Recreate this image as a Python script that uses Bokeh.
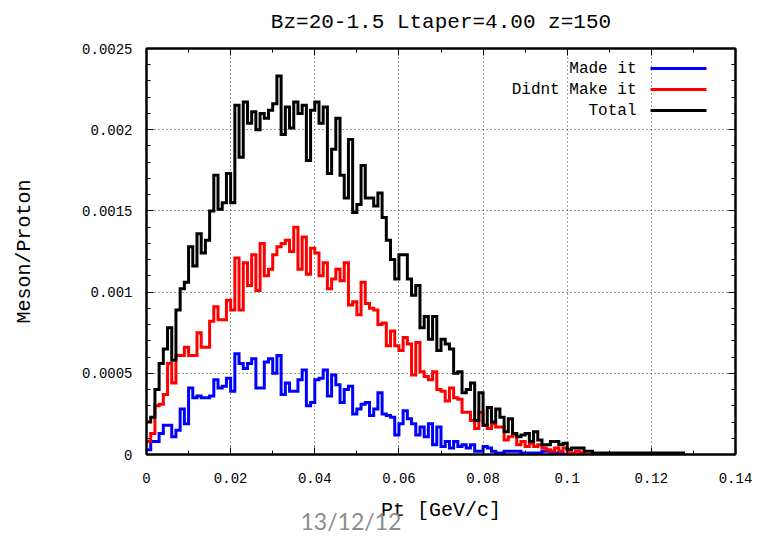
from bokeh.plotting import figure
from bokeh.models import Range1d, FixedTicker, LinearAxis, Label, BoxAnnotation, Title
from bokeh.embed import file_html
from bokeh.resources import INLINE

# ---------------- data (values in units of 1e-5 Meson/Proton per 0.001 GeV/c bin) ----------------
SCALE = 1e-5
BIN_WIDTH = 0.001

total_e5 = [
    20, 23, 40, 56, 65, 78, 58, 89, 102, 106,
    128, 116, 136, 124, 132, 150, 172, 151, 155, 173,
    155, 215, 183, 217, 204, 211, 200, 210, 207, 212,
    216, 233, 197, 214, 201, 217, 210, 215, 181, 212,
    217, 204, 214, 173, 188, 207, 172, 158, 194, 149,
    154, 178, 158, 158, 153, 161, 146, 132, 120, 108,
    123, 123, 108, 98, 104, 78, 85, 71, 85, 64,
    71, 68, 65, 50, 51, 38, 40, 44, 21, 38,
    18, 29, 20, 28, 23, 14, 22, 13, 11, 12,
    13, 8, 14, 9, 6, 6, 8, 8, 6, 7,
    3, 4, 4, 4, 2, 2, 1, 1, 1, 1,
    1, 1, 1, 1, 1, 1, 1, 1, 1, 1,
    1, 1, 1, 1, 1, 1, 1, 1,
]

didnt_e5 = [
    8, 13, 30, 31, 37, 56, 44, 61, 61, 66,
    61, 61, 75, 66, 66, 82, 91, 83, 83, 95,
    89, 121, 89, 118, 104, 123, 101, 130, 110, 114,
    123, 128, 130, 132, 125, 140, 114, 134, 111, 127,
    124, 110, 118, 102, 108, 114, 107, 118, 92, 94,
    86, 106, 93, 90, 89, 80, 81, 67, 76, 67,
    64, 72, 68, 49, 69, 51, 48, 46, 51, 40,
    39, 33, 41, 35, 34, 26, 26, 21, 16, 26,
    18, 16, 19, 17, 17, 9, 11, 12, 6, 8,
    5, 7, 5, 6, 4, 3, 2, 4, 2, 4,
    1, 1, 2, 1, 0, 0, 0, 0, 0, 0,
    0, 0, 0, 0, 0, 0, 0, 0, 0, 0,
    0, 0, 0, 0, 0, 0, 0, 0,
]

made_e5 = [
    3, 8, 8, 13, 18, 18, 11, 15, 28, 19,
    41, 35, 36, 35, 35, 36, 46, 41, 42, 47,
    39, 62, 56, 53, 56, 59, 41, 41, 57, 59,
    50, 61, 37, 44, 39, 39, 46, 52, 30, 32,
    46, 47, 52, 36, 49, 43, 32, 40, 42, 25,
    28, 31, 32, 24, 28, 38, 25, 24, 23, 12,
    19, 27, 22, 19, 12, 17, 11, 19, 6, 17,
    5, 8, 4, 8, 5, 6, 4, 6, 2, 2,
    5, 4, 2, 1, 1, 2, 2, 2, 2, 1,
    1, 1, 1, 1, 2, 2, 1, 1, 1, 0,
    0, 0, 0, 0, 0, 0, 0, 0, 0, 0,
    0, 0, 0, 0, 0, 0, 0, 0, 0, 0,
    0, 0, 0, 0, 0, 0, 0, 0,
]

series_names = ["Made it", "Didnt Make it", "Total"]
series_colors = ["#0000ff", "#ff0000", "#000000"]

x_ticks = [0.0, 0.02, 0.04, 0.06, 0.08, 0.1, 0.12, 0.14]
x_tick_labels = ["0", "0.02", "0.04", "0.06", "0.08", "0.1", "0.12", "0.14"]
x_minor = [0.01, 0.03, 0.05, 0.07, 0.09, 0.11, 0.13]
y_ticks = [0.0, 0.0005, 0.001, 0.0015, 0.002, 0.0025]
y_tick_labels = ["0", "0.0005", "0.001", "0.0015", "0.002", "0.0025"]
y_minor = [0.0001, 0.0002, 0.0003, 0.0004, 0.0006, 0.0007, 0.0008, 0.0009,
           0.0011, 0.0012, 0.0013, 0.0014, 0.0016, 0.0017, 0.0018, 0.0019,
           0.0021, 0.0022, 0.0023, 0.0024]

TITLE = "Bz=20-1.5 Ltaper=4.00 z=150"
FONT = "Liberation Mono"

# ---------------- figure ----------------
p = figure(width=758, height=537, output_backend="svg", toolbar_location=None,
           x_range=Range1d(0, 0.14), y_range=Range1d(0, 0.0025),
           min_border_left=146, min_border_right=23, min_border_top=48,
           min_border_bottom=83, x_axis_location="below", y_axis_location="left")
p.background_fill_color = "white"
p.border_fill_color = "white"
p.outline_line_color = "black"
p.outline_line_width = 2
p.title.text = ""

xt = FixedTicker(ticks=x_ticks, minor_ticks=x_minor)
yt = FixedTicker(ticks=y_ticks, minor_ticks=y_minor)

def style_axis(ax, ticker, overrides, font_size):
    ax.ticker = ticker
    ax.axis_line_width = 2
    ax.axis_line_color = "black"
    ax.major_tick_in = 7
    ax.major_tick_out = 0
    ax.minor_tick_in = 4
    ax.minor_tick_out = 0
    ax.major_tick_line_width = 1
    ax.minor_tick_line_width = 1
    ax.major_tick_line_color = "black"
    ax.minor_tick_line_color = "black"
    ax.major_label_text_font = FONT
    ax.major_label_text_font_size = font_size
    ax.major_label_text_color = "black"
    ax.major_label_overrides = overrides

style_axis(p.xaxis[0], xt, dict(zip(x_ticks, x_tick_labels)), "14px")
style_axis(p.yaxis[0], yt, dict(zip(y_ticks, y_tick_labels)), "14px")
p.xaxis[0].major_label_standoff = 18
p.yaxis[0].major_label_standoff = 14

p.xaxis[0].axis_label = "Pt [GeV/c]"
p.yaxis[0].axis_label = "Meson/Proton"
for ax in (p.xaxis[0], p.yaxis[0]):
    ax.axis_label_text_font = FONT
    ax.axis_label_text_font_size = "20px"
    ax.axis_label_text_font_style = "normal"
    ax.axis_label_text_color = "black"
p.xaxis[0].axis_label_standoff = 13
p.yaxis[0].axis_label_standoff = 43

# mirrored tick marks on the top and right edges (no tick labels);
# the top axis carries the chart title as its axis label
top_ax = LinearAxis()
right_ax = LinearAxis()
style_axis(top_ax, xt, {t: "" for t in x_ticks}, "1px")
style_axis(right_ax, yt, {t: "" for t in y_ticks}, "1px")
top_ax.major_label_standoff = 0
right_ax.major_label_standoff = 0
top_ax.axis_label = TITLE
top_ax.axis_label_text_font = FONT
top_ax.axis_label_text_font_size = "21px"
top_ax.axis_label_text_font_style = "normal"
top_ax.axis_label_text_color = "black"
top_ax.axis_label_standoff = 15
p.add_layout(top_ax, "above")
p.add_layout(right_ax, "right")

for g in (p.xgrid[0], p.ygrid[0]):
    g.grid_line_color = "#333333"
    g.grid_line_dash = "1 3"
    g.grid_line_width = 1
p.xgrid[0].ticker = xt
p.ygrid[0].ticker = yt

# ---------------- histograms ----------------
edges = [round(i * BIN_WIDTH, 6) for i in range(len(total_e5) + 1)]
for vals, color in zip([made_e5, didnt_e5, total_e5], series_colors):
    ys = [v * SCALE for v in vals]
    ys = ys + [ys[-1]]
    p.step(x=edges, y=ys, mode="after", line_color=color, line_width=3,
           line_join="miter")

# ---------------- legend (gnuplot style: text then sample) ----------------
legend_rows_y = [386, 365, 344]
for name, color, yy in zip(series_names, series_colors, legend_rows_y):
    p.add_layout(Label(x=490, y=yy, x_units="screen", y_units="screen", text=name,
                       text_align="right", text_baseline="middle", text_font=FONT,
                       text_font_size="16px", text_color="black"))
    p.add_layout(BoxAnnotation(left=504, right=560, bottom=yy - 1.5, top=yy + 1.5,
                               left_units="screen", right_units="screen",
                               bottom_units="screen", top_units="screen",
                               fill_color=color, fill_alpha=1.0, line_alpha=0))

# slide footer (date stamp under the plot)
footer = Title(text="13/12/12", align="left", offset=154, text_font="Lato",
               text_font_size="23px", text_font_style="normal", text_color="#8c8c8c",
               vertical_align="top", standoff=-36)
p.add_layout(footer, "below")

open("out.html", "w").write(file_html(p, INLINE))
